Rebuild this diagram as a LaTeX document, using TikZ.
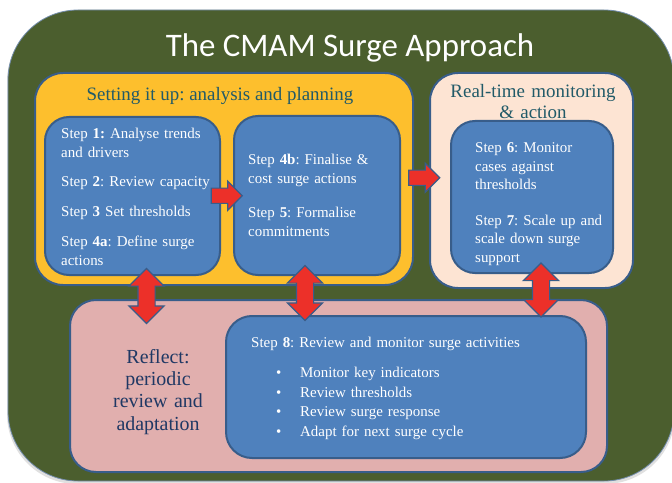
\documentclass[tikz,border=0pt]{standalone}
\usepackage{fontspec}
\setmainfont{Liberation Serif}
\newfontfamily\headingfont{Carlito}
\usetikzlibrary{shapes.arrows,calc}
\frenchspacing

\definecolor{cmamgreen}{HTML}{4B5E2E}
\definecolor{setupyellow}{HTML}{FDBF2D}
\definecolor{monitorpeach}{HTML}{FDE4D3}
\definecolor{stepblue}{HTML}{4F81BD}
\definecolor{edgeblue}{HTML}{385D8A}
\definecolor{reflectpink}{HTML}{E1AFAE}
\definecolor{arrowred}{HTML}{EC3029}
\definecolor{headteal}{HTML}{215A68}
\definecolor{reflectnavy}{HTML}{1F3864}

\tikzset{
  panel/.style={draw=edgeblue, line width=2bp, anchor=north west, inner sep=0pt, outer sep=0pt},
  stepbox/.style={panel, fill=stepblue, rounded corners=24bp},
  steptext/.style={anchor=base west, inner sep=0pt, text=white, align=left,
    text width=175bp, font=\fontsize{15}{19}\selectfont},
  flowarrow/.style={single arrow, fill=arrowred, draw=edgeblue, line width=1.2bp,
    inner xsep=0pt, inner ysep=7bp, single arrow head extend=7bp, minimum height=31bp},
  linkarrow/.style={double arrow, rotate=90, fill=arrowred, draw=edgeblue,
    line width=1.2bp, inner xsep=0pt, inner ysep=8bp, double arrow head extend=9bp,
    minimum height=55bp},
}

\begin{document}
\begin{tikzpicture}[x=1bp,y=-1bp]
\useasboundingbox (0,0) rectangle (672,483);
\fill[white] (0,0) rectangle (672,483);

% outer frame with a faint shadow
\fill[black!12, rounded corners=70bp] (7,12) rectangle (675,484);
\node[panel, draw=edgeblue!70, line width=0.8bp, fill=cmamgreen, rounded corners=70bp,
  minimum width=666bp, minimum height=471bp] (frame) at (8,10) {};
\node[anchor=base, inner sep=0pt, text=white, font=\headingfont\fontsize{33}{40}\selectfont]
  (title) at (350,57) {The CMAM Surge Approach};

% planning and monitoring panels
\node[panel, fill=setupyellow, rounded corners=28bp, minimum width=378bp, minimum height=212bp]
  (setup) at (35,73) {};
\node[panel, fill=monitorpeach, rounded corners=28bp, minimum width=203bp, minimum height=215bp]
  (monitor) at (430,73) {};
\node[anchor=base, inner sep=0pt, text=headteal, font=\fontsize{19}{21}\selectfont]
  (setuphead) at (220,101) {Setting it up: analysis and planning};
\node[anchor=base, inner sep=0pt, text=headteal, align=center, text width=190bp,
  font=\fontsize{19}{21}\selectfont]
  (monitorhead) at (533,98) {Real-time monitoring\\ \& action};

% step boxes
\node[stepbox, minimum width=175bp, minimum height=158bp] (b1) at (45,117) {};
\node[stepbox, minimum width=166bp, minimum height=159bp] (b2) at (234,116) {};
\node[stepbox, minimum width=162bp, minimum height=152bp] (b3) at (451,121) {};

\node[steptext] (t1) at (61,139) {Step \textbf{1:} Analyse trends\\ and drivers\\[10bp]
  Step \textbf{2}: Review capacity\\[11bp]
  Step \textbf{3} Set thresholds\\[11bp]
  Step \textbf{4a}: Define surge\\ actions};
\node[steptext] (t2) at (248,165) {Step \textbf{4b}: Finalise \&\\ cost surge actions\\[15bp]
  Step \textbf{5}: Formalise\\ commitments};
\node[steptext, font=\fontsize{15}{18.5}\selectfont] (t3) at (475,153)
  {Step \textbf{6}: Monitor\\ cases against\\ thresholds\\[17bp]
  Step \textbf{7}: Scale up and\\ scale down surge\\ support};

% review panel
\node[panel, fill=reflectpink, rounded corners=26bp, minimum width=537bp, minimum height=172bp]
  (reflect) at (70,300) {};
\node[anchor=base, inner sep=0pt, text=reflectnavy, align=center, text width=130bp,
  font=\fontsize{20}{22.5}\selectfont]
  (reflecttext) at (158,363) {Reflect:\\ periodic\\ review and\\ adaptation};
\node[stepbox, rounded corners=26bp, minimum width=360bp, minimum height=142bp] (b8) at (226,316) {};
\node[steptext, text width=330bp, font=\fontsize{15}{19.7}\selectfont] (t8) at (251,347)
  {Step \textbf{8}: Review and monitor surge activities\\[11bp]
  \hspace*{25bp}\makebox[24bp][l]{\textbullet}Monitor key indicators\\
  \hspace*{25bp}\makebox[24bp][l]{\textbullet}Review thresholds\\
  \hspace*{25bp}\makebox[24bp][l]{\textbullet}Review surge response\\
  \hspace*{25bp}\makebox[24bp][l]{\textbullet}Adapt for next surge cycle};

% flow arrows
\node[flowarrow] (a12) at ($(b1.east)!0.5!(b2.west)+(-4,0)$) {};
\node[flowarrow] (a23) at ($(setup.east)!0.5!(monitor.west)+(-1,-2)$) {};
\node[linkarrow] (v1) at ($(b1.south)+(14,21)$) {};
\node[linkarrow] (v2) at ($(b2.south)+(-12,18)$) {};
\node[linkarrow, minimum height=54bp] (v3) at ($(b3.south)+(9,17)$) {};
\end{tikzpicture}
\end{document}
